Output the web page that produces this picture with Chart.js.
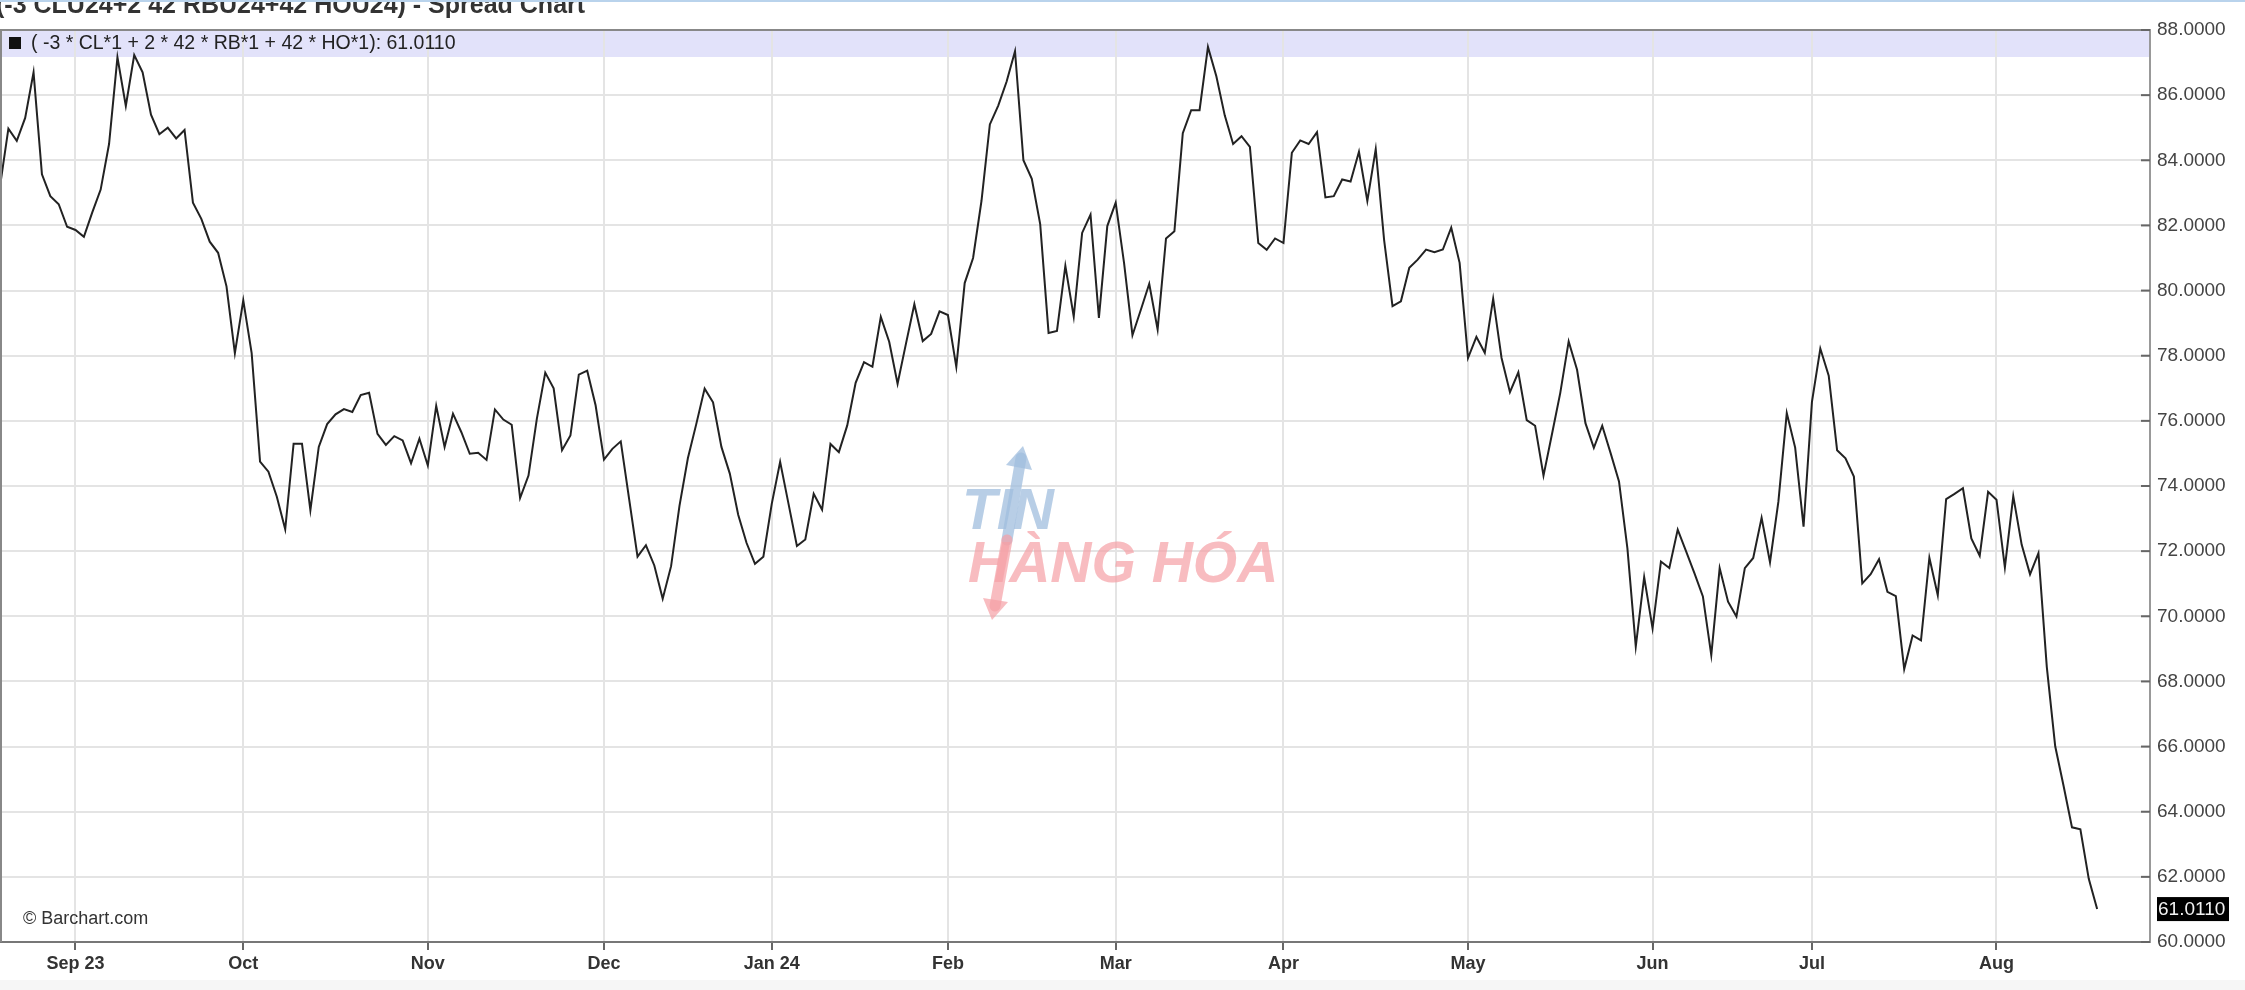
<!DOCTYPE html>
<html>
<head>
<meta charset="utf-8">
<script src="https://cdn.jsdelivr.net/npm/chart.js@4.4.1/dist/chart.umd.min.js"></script>
<style>
  html, body { margin: 0; padding: 0; background: #fff; }
  #wrap { width: 2245px; height: 990px; position: relative; }
</style>
</head>
<body>
<div id="wrap"><canvas id="spreadChart"></canvas></div>
<script>
// daily closes of the crack spread, one value per trading day (Aug 21 2023 -> Aug 2024)
const spreadValues = [
  83.2, 84.97, 84.6, 85.3, 86.7, 83.57, 82.9, 82.65, 81.96, 81.86, 81.65, 82.4, 83.1, 84.5, 87.16,
  85.67, 87.23, 86.7, 85.4, 84.8, 85.0, 84.67, 84.93, 82.7, 82.2, 81.5, 81.16, 80.13, 78.08, 79.7,
  78.08, 74.75, 74.44, 73.67, 72.67, 75.3, 75.3, 73.26, 75.2, 75.9, 76.2, 76.36, 76.27,
  76.79, 76.86, 75.6, 75.26, 75.53, 75.4, 74.7, 75.45, 74.63, 76.46, 75.2, 76.22, 75.65, 74.99,
  75.02, 74.8, 76.35, 76.04, 75.88, 73.63, 74.32, 76.07, 77.48, 77.0, 75.1, 75.55, 77.42, 77.54,
  76.48, 74.81, 75.14, 75.37, 73.6, 71.83, 72.18, 71.56, 70.54, 71.54, 73.39, 74.85, 75.9, 76.99,
  76.57, 75.2, 74.38, 73.12, 72.25, 71.61, 71.83, 73.45, 74.74, 73.45, 72.16, 72.36, 73.76, 73.27,
  75.29, 75.04, 75.86, 77.17, 77.8, 77.66, 79.19, 78.43, 77.14, 78.37, 79.58, 78.45, 78.67, 79.36,
  79.25, 77.66, 80.23, 81.0, 82.75, 85.1, 85.68, 86.42, 87.35, 84.0, 83.43, 82.04, 78.7, 78.76,
  80.76, 79.2, 81.77, 82.33, 79.16, 81.98, 82.7, 80.84, 78.63, 79.41, 80.21, 78.81, 81.6, 81.82,
  84.83, 85.54, 85.54, 87.48, 86.58, 85.38, 84.5, 84.74, 84.41, 81.46, 81.25, 81.6, 81.46, 84.23,
  84.61, 84.5, 84.86, 82.86, 82.9, 83.41, 83.35, 84.26, 82.75, 84.34, 81.55, 79.52, 79.67,
  80.7, 80.95, 81.26, 81.18, 81.26, 81.93, 80.85, 77.93, 78.58, 78.09, 79.75, 77.93, 76.88, 77.49,
  76.02, 75.85, 74.32, 75.58, 76.86, 78.44, 77.57, 75.93, 75.17, 75.85, 75.01, 74.14, 72.09, 69.07,
  71.2, 69.63, 71.68, 71.48, 72.66, 71.99, 71.32, 70.61, 68.81, 71.48, 70.45, 69.99, 71.48, 71.79,
  73.02, 71.66, 73.52, 76.24, 75.18, 72.75, 76.58, 78.22, 77.39, 75.1, 74.85, 74.29, 71.01, 71.29,
  71.75, 70.75, 70.62, 68.38, 69.41, 69.26, 71.8, 70.65, 73.6, 73.76, 73.93, 72.39, 71.86, 73.82,
  73.58, 71.5, 73.69, 72.2, 71.29, 71.94, 68.44, 66.01, 64.79, 63.52, 63.46, 61.94, 61.011
];

// first trading day of each month, as index into spreadValues
const monthStartIdx = [9, 29, 51, 72, 92, 113, 133, 153, 175, 197, 216, 238];
const monthLabels = ['Sep 23', 'Oct', 'Nov', 'Dec', 'Jan 24', 'Feb', 'Mar', 'Apr', 'May', 'Jun', 'Jul', 'Aug'];

const chartTitle = '(-3 CLU24+2 42 RBU24+42 HOU24) - Spread Chart';
const seriesName = '( -3 * CL*1 + 2 * 42 * RB*1 + 42 * HO*1)';

const FONT = '"Liberation Sans", Arial, sans-serif';
const lastValue = spreadValues[spreadValues.length - 1];

const decorations = {
  id: 'decorations',
  beforeDraw(chart) {
    const { ctx, chartArea: a } = chart;
    ctx.save();
    ctx.fillStyle = '#ffffff';
    ctx.fillRect(0, 0, chart.width, chart.height);
    ctx.fillStyle = '#f6f6f6';
    ctx.fillRect(0, 980, chart.width, chart.height - 980);
    // header band
    ctx.fillStyle = '#e2e2fa';
    ctx.fillRect(a.left, a.top, a.right - a.left, 27);
    ctx.restore();
  },
  beforeDatasetsDraw(chart) {
    const { ctx } = chart;
    ctx.save();
    // site watermark
    ctx.lineCap = 'round';
    ctx.strokeStyle = 'rgba(160,190,222,0.75)';
    ctx.lineWidth = 11;
    ctx.beginPath(); ctx.moveTo(1007, 540); ctx.lineTo(1021, 458); ctx.stroke();
    ctx.fillStyle = 'rgba(160,190,222,0.75)';
    ctx.beginPath(); ctx.moveTo(1023, 446); ctx.lineTo(1032, 470); ctx.lineTo(1006, 465); ctx.fill();
    ctx.strokeStyle = 'rgba(245,160,165,0.7)';
    ctx.beginPath(); ctx.moveTo(1007, 540); ctx.lineTo(995, 606); ctx.stroke();
    ctx.fillStyle = 'rgba(245,160,165,0.7)';
    ctx.beginPath(); ctx.moveTo(992, 620); ctx.lineTo(983, 598); ctx.lineTo(1008, 602); ctx.fill();
    ctx.font = 'italic bold 57px ' + FONT;
    ctx.textBaseline = 'alphabetic';
    ctx.textAlign = 'left';
    ctx.fillStyle = 'rgba(160,190,222,0.75)';
    ctx.fillText('TIN', 962, 529);
    ctx.fillStyle = 'rgba(245,160,165,0.7)';
    ctx.fillText('HÀNG HÓA', 968, 582);
    ctx.restore();
  },
  afterDraw(chart) {
    const { ctx, chartArea: a } = chart;
    const y = chart.scales.y;
    ctx.save();
    // top strip and cut-off title
    ctx.fillStyle = '#333';
    ctx.font = 'bold 25px ' + FONT;
    ctx.textBaseline = 'alphabetic';
    ctx.textAlign = 'left';
    ctx.fillText(chartTitle, -4, 13);
    ctx.fillStyle = '#b9d3ec';
    ctx.fillRect(0, 0, chart.width, 2);

    // frame
    ctx.strokeStyle = '#888';
    ctx.lineWidth = 2;
    ctx.beginPath();
    ctx.moveTo(a.left + 1, a.bottom); ctx.lineTo(a.left + 1, a.top);
    ctx.lineTo(a.right, a.top);
    ctx.stroke();

    // legend line in the band
    ctx.fillStyle = '#111';
    ctx.fillRect(9, 37, 12, 12);
    ctx.fillStyle = '#222';
    ctx.font = '19.5px ' + FONT;
    ctx.textBaseline = 'middle';
    ctx.fillText(seriesName + ': ' + lastValue.toFixed(4), 31, 44);

    // inner tick marks on the price axis
    ctx.strokeStyle = '#666';
    ctx.lineWidth = 2;
    y.ticks.forEach(t => {
      const py = y.getPixelForValue(t.value);
      ctx.beginPath(); ctx.moveTo(a.right - 9, py); ctx.lineTo(a.right, py); ctx.stroke();
    });

    // last price marker
    const ly = y.getPixelForValue(lastValue);
    ctx.fillStyle = '#000';
    ctx.fillRect(a.right + 7, ly - 12, 72, 24);
    ctx.fillStyle = '#f2f2f2';
    ctx.font = '19px ' + FONT;
    ctx.fillText(lastValue.toFixed(4), a.right + 8, ly + 1);

    // copyright
    ctx.fillStyle = '#333';
    ctx.font = '18px ' + FONT;
    ctx.fillText('© Barchart.com', 23, 919);
    ctx.restore();
  }
};

const ctx = document.getElementById('spreadChart').getContext('2d');
new Chart(ctx, {
  type: 'line',
  data: {
    datasets: [{
      label: seriesName,
      data: spreadValues.map((v, i) => ({ x: i, y: v })),
      borderColor: '#222',
      borderWidth: 2,
      pointRadius: 0,
      tension: 0,
      fill: false
    }]
  },
  options: {
    responsive: true,
    maintainAspectRatio: false,
    animation: false,
    devicePixelRatio: 1,
    layout: { padding: { top: 30, left: 0, right: 0, bottom: 0 } },
    plugins: {
      legend: { display: false },
      tooltip: { enabled: false },
      title: { display: false }
    },
    scales: {
      x: {
        type: 'linear',
        min: 0,
        max: 256.3,
        afterBuildTicks: scale => {
          scale.ticks = monthStartIdx.map(v => ({ value: v }));
        },
        afterFit: scale => { scale.height = 48; },
        grid: { color: '#e4e4e4', lineWidth: 2, tickLength: 8, tickColor: '#666', tickWidth: 2 },
        border: { display: true, color: '#777', width: 2 },
        ticks: {
          autoSkip: false,
          maxRotation: 0,
          padding: 3,
          color: '#333',
          font: { family: FONT, size: 18, weight: 'bold' },
          callback: v => {
            const k = monthStartIdx.indexOf(v);
            return k >= 0 ? monthLabels[k] : '';
          }
        }
      },
      y: {
        position: 'right',
        min: 60,
        max: 88,
        afterFit: scale => { scale.width = 95; },
        grid: { color: '#e4e4e4', lineWidth: 2, drawTicks: false },
        border: { display: true, color: '#999', width: 2 },
        ticks: {
          stepSize: 2,
          padding: 7,
          color: '#444',
          font: { family: FONT, size: 19 },
          callback: v => v.toFixed(4)
        }
      }
    }
  },
  plugins: [decorations]
});
</script>
</body>
</html>
